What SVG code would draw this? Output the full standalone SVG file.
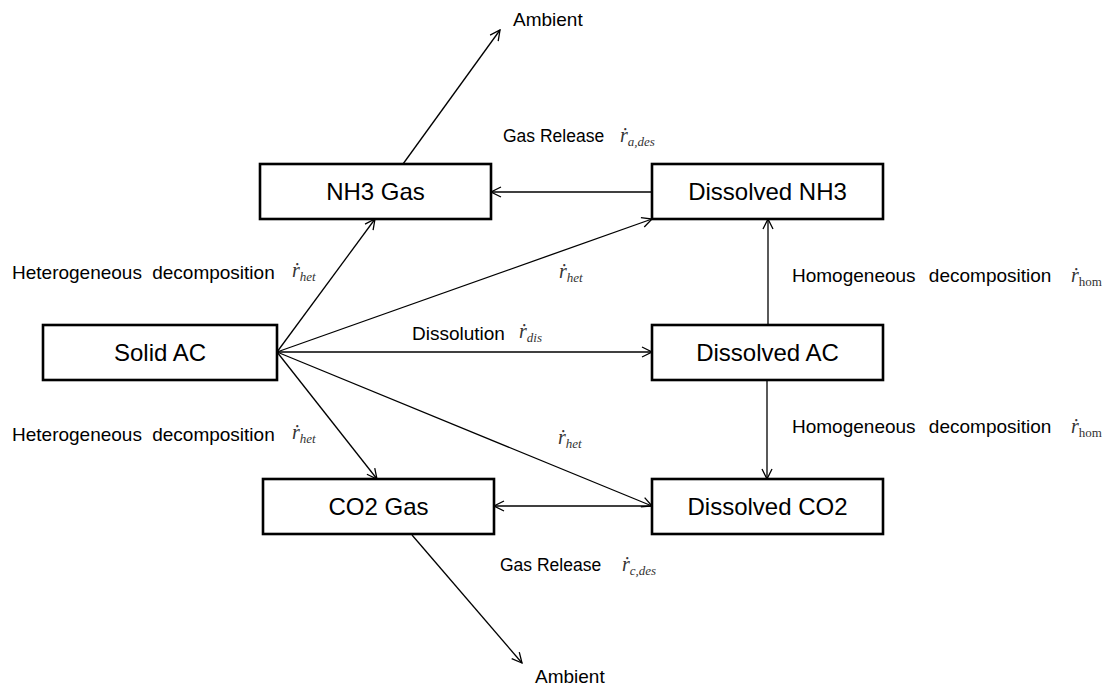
<svg xmlns="http://www.w3.org/2000/svg" width="1106" height="688" viewBox="0 0 1106 688">
<style>
.box{fill:#fff;stroke:#000;stroke-width:2.6}
.bl{font-family:"Liberation Sans",Arial,sans-serif;font-size:24px;fill:#000;text-anchor:middle}
.lb{font-family:"Liberation Sans",Arial,sans-serif;font-size:19px;fill:#000}
.gr{font-size:17.5px}
.m{font-family:"Liberation Serif","Times New Roman",serif;font-style:italic;font-size:20px;fill:#333}
.s{font-size:13px}
.sr{font-size:13px;font-style:normal}
.c{stroke:#000;stroke-width:1.3;fill:none}
</style>
<defs>
<marker id="a" viewBox="0 0 12 12" refX="11" refY="6" markerWidth="12" markerHeight="12" markerUnits="userSpaceOnUse" orient="auto">
<path d="M1,1 L11,6 L1,11" fill="none" stroke="#000" stroke-width="1.3"/>
</marker>
</defs>
<rect width="1106" height="688" fill="#fff"/>
<g id="connectors">
<line class="c" x1="403" y1="164" x2="500" y2="30" marker-end="url(#a)"/>
<line class="c" x1="652" y1="192" x2="491" y2="192" marker-end="url(#a)"/>
<line class="c" x1="277" y1="352" x2="375" y2="219" marker-end="url(#a)"/>
<line class="c" x1="277" y1="352" x2="652" y2="219" marker-end="url(#a)"/>
<line class="c" x1="277" y1="352" x2="652" y2="352" marker-end="url(#a)"/>
<line class="c" x1="277" y1="352" x2="377" y2="479" marker-end="url(#a)"/>
<line class="c" x1="277" y1="352" x2="652" y2="506" marker-end="url(#a)"/>
<line class="c" x1="768" y1="325" x2="768" y2="219" marker-end="url(#a)"/>
<line class="c" x1="767" y1="380" x2="767" y2="479" marker-end="url(#a)"/>
<line class="c" x1="652" y1="506" x2="494" y2="506" marker-end="url(#a)"/>
<line class="c" x1="412" y1="535" x2="522" y2="663" marker-end="url(#a)"/>
</g>
<g id="nh3gas"><rect class="box" x="260" y="164" width="231" height="55"/><text class="bl" x="375.5" y="200">NH3 Gas</text></g>
<g id="dissolvednh3"><rect class="box" x="652" y="164" width="231" height="55"/><text class="bl" x="767.5" y="200">Dissolved NH3</text></g>
<g id="solidac"><rect class="box" x="43" y="325" width="234" height="55"/><text class="bl" x="160" y="361">Solid AC</text></g>
<g id="dissolvedac"><rect class="box" x="652" y="325" width="231" height="55"/><text class="bl" x="767.5" y="361">Dissolved AC</text></g>
<g id="co2gas"><rect class="box" x="263" y="479" width="231" height="55"/><text class="bl" x="378.5" y="515">CO2 Gas</text></g>
<g id="dissolvedco2"><rect class="box" x="652" y="479" width="231" height="55"/><text class="bl" x="767.5" y="515">Dissolved CO2</text></g>
<g id="labels">
<text class="lb" x="513" y="26">Ambient</text>
<text class="lb" x="535" y="683">Ambient</text>
<text class="lb gr" x="503" y="142">Gas Release</text>
<text class="m" x="620" y="142">ṙ<tspan class="s" dy="4">a,des</tspan></text>
<text class="lb gr" x="500" y="571">Gas Release</text>
<text class="m" x="622" y="571">ṙ<tspan class="s" dy="4">c,des</tspan></text>
<text class="lb" x="12" y="279" word-spacing="5">Heterogeneous decomposition</text>
<text class="m" x="292" y="277">ṙ<tspan class="s" dy="4">het</tspan></text>
<text class="lb" x="12" y="441" word-spacing="5">Heterogeneous decomposition</text>
<text class="m" x="292" y="439">ṙ<tspan class="s" dy="4">het</tspan></text>
<text class="m" x="559" y="278">ṙ<tspan class="s" dy="4">het</tspan></text>
<text class="m" x="558" y="444">ṙ<tspan class="s" dy="4">het</tspan></text>
<text class="lb" x="412" y="340">Dissolution</text>
<text class="m" x="519" y="338">ṙ<tspan class="s" dy="4">dis</tspan></text>
<text class="lb" x="792" y="282" word-spacing="8">Homogeneous decomposition</text>
<text class="m" x="1071" y="282">ṙ<tspan class="sr" dy="4">hom</tspan></text>
<text class="lb" x="792" y="433" word-spacing="8">Homogeneous decomposition</text>
<text class="m" x="1071" y="433">ṙ<tspan class="sr" dy="4">hom</tspan></text>
</g>
</svg>
